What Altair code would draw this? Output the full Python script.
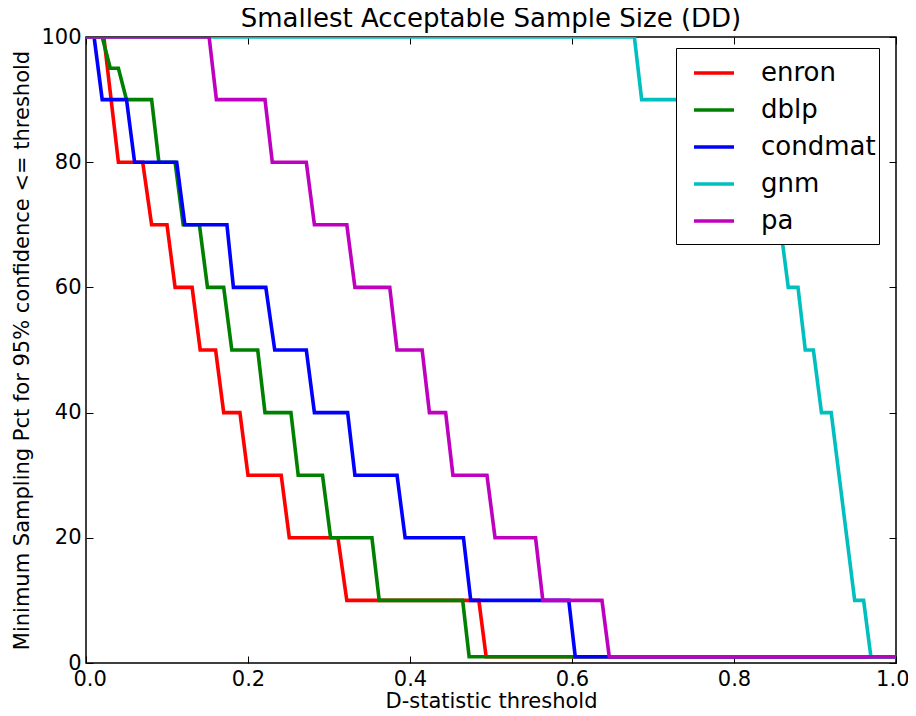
import altair as alt
import pandas as pd

# ---- data ----
series_names = ["enron", "dblp", "condmat", "gnm", "pa"]
series_colors = ["#ff0000", "#008000", "#0000ff", "#00bfbf", "#bf00bf"]

enron_x = [0.0, 0.022, 0.04, 0.07, 0.081, 0.10, 0.11, 0.131, 0.141, 0.16, 0.17, 0.19, 0.20, 0.241, 0.251, 0.311, 0.322, 0.485, 0.494, 1.0]
enron_y = [100, 100, 80, 80, 70, 70, 60, 60, 50, 50, 40, 40, 30, 30, 20, 20, 10, 10, 1, 1]

dblp_x = [0.0, 0.02, 0.03, 0.04, 0.05, 0.081, 0.09, 0.11, 0.12, 0.14, 0.15, 0.17, 0.18, 0.212, 0.221, 0.253, 0.262, 0.292, 0.302, 0.353, 0.362, 0.465, 0.473, 1.0]
dblp_y = [100, 100, 95, 95, 90, 90, 80, 80, 70, 70, 60, 60, 50, 50, 40, 40, 30, 30, 20, 20, 10, 10, 1, 1]

condmat_x = [0.0, 0.01, 0.02, 0.05, 0.06, 0.112, 0.122, 0.174, 0.182, 0.222, 0.233, 0.272, 0.282, 0.323, 0.332, 0.384, 0.394, 0.466, 0.475, 0.596, 0.604, 1.0]
condmat_y = [100, 100, 90, 90, 80, 80, 70, 70, 60, 60, 50, 50, 40, 40, 30, 30, 20, 20, 10, 10, 1, 1]

gnm_x = [0.0, 0.677, 0.686, 0.775, 0.785, 0.835, 0.845, 0.857, 0.867, 0.879, 0.888, 0.898, 0.908, 0.92, 0.949, 0.96, 0.969, 1.0]
gnm_y = [100, 100, 90, 90, 80, 80, 70, 70, 60, 60, 50, 50, 40, 40, 10, 10, 1, 1]

pa_x = [0.0, 0.152, 0.161, 0.221, 0.23, 0.272, 0.282, 0.322, 0.332, 0.375, 0.384, 0.415, 0.424, 0.444, 0.453, 0.495, 0.505, 0.555, 0.564, 0.637, 0.646, 1.0]
pa_y = [100, 100, 90, 90, 80, 80, 70, 70, 60, 60, 50, 50, 40, 40, 30, 30, 20, 20, 10, 10, 1, 1]

x_ticks = [0.0, 0.2, 0.4, 0.6, 0.8, 1.0]
y_ticks = [0, 20, 40, 60, 80, 100]

title_text = "Smallest Acceptable Sample Size (DD)"
x_title = "D-statistic threshold"
y_title = "Minimum Sampling Pct for 95% confidence <= threshold"

rows = []
for name, xs, ys in [("enron", enron_x, enron_y), ("dblp", dblp_x, dblp_y),
                     ("condmat", condmat_x, condmat_y), ("gnm", gnm_x, gnm_y),
                     ("pa", pa_x, pa_y)]:
    for i, (a, b) in enumerate(zip(xs, ys)):
        rows.append({"series": name, "x": a, "y": b, "order": i})
df = pd.DataFrame(rows)

W, H = 810, 626
FONT = "DejaVu Sans"

x_scale = alt.Scale(domain=[0, 1], nice=False, zero=False)
y_scale = alt.Scale(domain=[0, 100], nice=False, zero=False)

x_axis_main = alt.Axis(
    orient="bottom", values=x_ticks, format=".1f", ticks=False, tickSize=0,
    domain=False, grid=False, labelFlush=True, labelFlushOffset=13,
    labelOverlap=False,
    labelPadding=5, labelFontSize=21, labelFont=FONT, labelColor="black",
    title=x_title, titleFontSize=21, titleFont=FONT, titleFontWeight="normal",
    titleColor="black", titleX=W / 2, titleY=44, titleBaseline="alphabetic",
)
y_axis_main = alt.Axis(
    orient="left", values=y_ticks, format="d", ticks=False, tickSize=0,
    domain=False, grid=False, labelOverlap=False,
    labelPadding=5, labelFontSize=21, labelFont=FONT, labelColor="black",
    title=y_title, titleFontSize=21, titleFont=FONT, titleFontWeight="normal",
    titleColor="black", titleX=-58, titleY=H / 2, titleBaseline="alphabetic",
)


def tick_axis(orient, offset, values):
    return alt.Axis(orient=orient, offset=offset, values=values, labels=False,
                    ticks=True, tickSize=7, tickColor="black", tickWidth=1,
                    domain=False, grid=False, title=None)


legend = alt.Legend(
    title=" ", titleOrient="bottom", titleFontSize=2, titlePadding=5,
    orient="none", legendX=590, legendY=11,
    fillColor="white", strokeColor="black", padding=3,
    cornerRadius=0, symbolType="stroke", symbolSize=40 * 40,
    symbolStrokeWidth=3.6, symbolOffset=13, labelFontSize=26, labelFont=FONT,
    labelColor="black", labelOffset=25, rowPadding=2,
)

lines = alt.Chart(df).mark_line(strokeWidth=3.6, clip=True).encode(
    x=alt.X("x:Q", scale=x_scale, axis=x_axis_main),
    y=alt.Y("y:Q", scale=y_scale, axis=y_axis_main),
    color=alt.Color("series:N", scale=alt.Scale(domain=series_names, range=series_colors),
                    legend=legend),
    order="order:Q",
)

ticks_a = alt.Chart(df).mark_line(opacity=0).encode(
    x=alt.X("x:Q", scale=x_scale, axis=tick_axis("top", -H, x_ticks)),
    y=alt.Y("y:Q", scale=y_scale, axis=tick_axis("right", -W, y_ticks)),
    detail="series:N",
)
ticks_b = alt.Chart(df).mark_line(opacity=0).encode(
    x=alt.X("x:Q", scale=x_scale, axis=tick_axis("bottom", -H, x_ticks)),
    y=alt.Y("y:Q", scale=y_scale, axis=tick_axis("left", -W, y_ticks)),
    detail="series:N",
)

chart = (
    alt.layer(lines, ticks_a, ticks_b)
    .resolve_axis(x="independent", y="independent")
    .properties(
        width=W, height=H,
        title=alt.Title(title_text, fontSize=26, font=FONT, fontWeight="normal",
                        color="black", offset=-6),
        autosize=alt.AutoSizeParams(type="none"),
        padding={"left": 78, "top": 29, "right": 12, "bottom": 45},
    )
    .configure_view(stroke="black", strokeWidth=1.5)
    .configure_legend(strokeWidth=1)
)

chart.save("out.html", embed_options={"renderer": "svg", "actions": False})
